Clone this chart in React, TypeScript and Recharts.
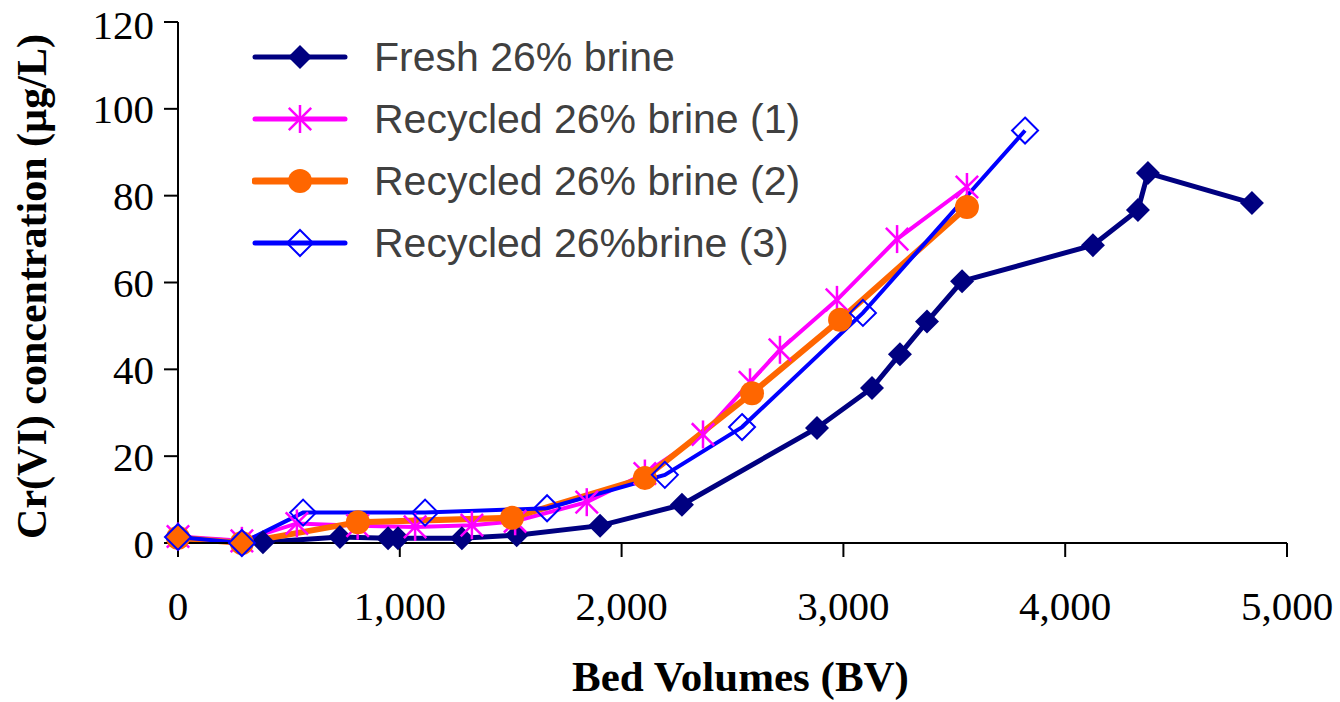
import { LineChart, Line, XAxis, YAxis } from 'recharts';

const xTicks = [0, 1000, 2000, 3000, 4000, 5000];
const yTicks = [0, 20, 40, 60, 80, 100, 120];

const freshBV = [0, 383, 730, 947, 992, 1280, 1527, 1903, 2272, 2881, 3129, 3255, 3377, 3535, 4125, 4328, 4373, 4842];
const freshCr = [1, 0.2, 1.4, 1.1, 1.1, 1.1, 1.8, 4, 8.8, 26.5, 35.7, 43.5, 51, 60.3, 68.6, 76.7, 85.2, 78.3];

const rec1BV = [0, 288, 536, 810, 1069, 1325, 1520, 1843, 2105, 2367, 2579, 2714, 2971, 3242, 3557];
const rec1Cr = [1.5, 0.5, 4.5, 4, 3.7, 4.1, 5, 9.4, 16, 25, 37, 44.5, 56, 70, 82];

const rec2BV = [0, 288, 811, 1506, 2105, 2588, 2985, 3557];
const rec2Cr = [1.2, 0, 4.8, 5.8, 15, 34.5, 51.4, 77.4];

const rec3BV = [0, 288, 564, 1114, 1664, 2195, 2543, 3088, 3819];
const rec3Cr = [1.4, 0, 7, 7, 8, 15.7, 26.7, 53, 95];

const names = ['Fresh 26% brine', 'Recycled 26% brine (1)', 'Recycled 26% brine (2)', 'Recycled 26%brine (3)'];
const colors = ['#000080', '#FF00FF', '#FF6600', '#0000FF'];
const widths = [5, 4, 6, 4];

const toRows = (xs: number[], ys: number[]) => xs.map((x, i) => ({ x, y: ys[i] }));

const fresh = toRows(freshBV, freshCr);
const rec1 = toRows(rec1BV, rec1Cr);
const rec2 = toRows(rec2BV, rec2Cr);
const rec3 = toRows(rec3BV, rec3Cr);

function Marker({ kind, cx, cy }: { kind: number; cx: number; cy: number }) {
  if (kind === 0) {
    const r = 12;
    return <path d={`M${cx},${cy - r}L${cx + r},${cy}L${cx},${cy + r}L${cx - r},${cy}Z`} fill={colors[0]} />;
  }
  if (kind === 1) {
    const r = 14;
    const d = r * 0.8;
    return (
      <g stroke={colors[1]} strokeWidth={2.5}>
        <line x1={cx} y1={cy - r} x2={cx} y2={cy + r} />
        <line x1={cx - d} y1={cy - d} x2={cx + d} y2={cy + d} />
        <line x1={cx - d} y1={cy + d} x2={cx + d} y2={cy - d} />
      </g>
    );
  }
  if (kind === 2) {
    return <circle cx={cx} cy={cy} r={12} fill={colors[2]} />;
  }
  const r = 13;
  return (
    <path
      d={`M${cx},${cy - r}L${cx + r},${cy}L${cx},${cy + r}L${cx - r},${cy}Z`}
      fill="none"
      stroke={colors[3]}
      strokeWidth={2}
    />
  );
}

const dotFor = (kind: number) => (props: any) =>
  <Marker key={`${kind}-${props.index}`} kind={kind} cx={props.cx} cy={props.cy} />;

function LegendBox() {
  return (
    <div
      style={{
        position: 'absolute',
        top: 26,
        left: 252,
        fontFamily: '"Liberation Sans", Arial, sans-serif',
        fontSize: 41,
        color: '#404040',
      }}
    >
      {names.map((n, i) => (
        <div key={n} style={{ display: 'flex', alignItems: 'center', height: 62 }}>
          <svg width={96} height={40} style={{ marginRight: 26 }}>
            <line x1={3} y1={20} x2={93} y2={20} stroke={colors[i]} strokeWidth={i === 2 ? 7 : 5} strokeLinecap="round" />
            <Marker kind={i} cx={48} cy={20} />
          </svg>
          <span>{n}</span>
        </div>
      ))}
    </div>
  );
}

const serif = '"Liberation Serif", "Times New Roman", serif';

export default function App() {
  return (
    <div style={{ position: 'relative', width: 1340, height: 702, background: '#fff' }}>
      <style>{'body{margin:0}'}</style>
      <LineChart width={1340} height={702} margin={{ top: 22, right: 53, bottom: 0, left: 0 }}>
        <XAxis
          type="number"
          dataKey="x"
          domain={[0, 5000]}
          ticks={xTicks}
          height={159}
          tickSize={14}
          tickMargin={34}
          axisLine={{ stroke: '#000', strokeWidth: 2 }}
          tickLine={{ stroke: '#000', strokeWidth: 2 }}
          tick={{ fill: '#000', fontSize: 41, fontFamily: serif }}
          tickFormatter={(v: number) => v.toLocaleString('en-US')}
          label={({ viewBox }: any) => (
            <text
              x={viewBox.x + viewBox.width / 2 + 8}
              y={viewBox.y + 148}
              textAnchor="middle"
              fontFamily={serif}
              fontWeight="bold"
              fontSize={43}
              fill="#000"
            >
              Bed Volumes (BV)
            </text>
          )}
        />
        <YAxis
          type="number"
          dataKey="y"
          domain={[0, 120]}
          ticks={yTicks}
          width={178}
          tickSize={14}
          tickMargin={10}
          axisLine={{ stroke: '#000', strokeWidth: 2 }}
          tickLine={{ stroke: '#000', strokeWidth: 2 }}
          tick={{ fill: '#000', fontSize: 41, fontFamily: serif }}
          label={({ viewBox }: any) => (
            <text
              x={viewBox.x + 32}
              y={viewBox.y + viewBox.height / 2 + 4}
              transform={`rotate(-90 ${viewBox.x + 32} ${viewBox.y + viewBox.height / 2 + 4})`}
              textAnchor="middle"
              dominantBaseline="central"
              fontFamily={serif}
              fontWeight="bold"
              fontSize={42}
              fill="#000"
            >
              Cr(VI) concentration (µg/L)
            </text>
          )}
        />
        <Line data={fresh} dataKey="y" name={names[0]} stroke={colors[0]} strokeWidth={widths[0]} dot={dotFor(0)} isAnimationActive={false} />
        <Line data={rec1} dataKey="y" name={names[1]} stroke={colors[1]} strokeWidth={widths[1]} dot={dotFor(1)} isAnimationActive={false} />
        <Line data={rec2} dataKey="y" name={names[2]} stroke={colors[2]} strokeWidth={widths[2]} dot={dotFor(2)} isAnimationActive={false} />
        <Line data={rec3} dataKey="y" name={names[3]} stroke={colors[3]} strokeWidth={widths[3]} dot={dotFor(3)} isAnimationActive={false} />
      </LineChart>
      <LegendBox />
    </div>
  );
}
